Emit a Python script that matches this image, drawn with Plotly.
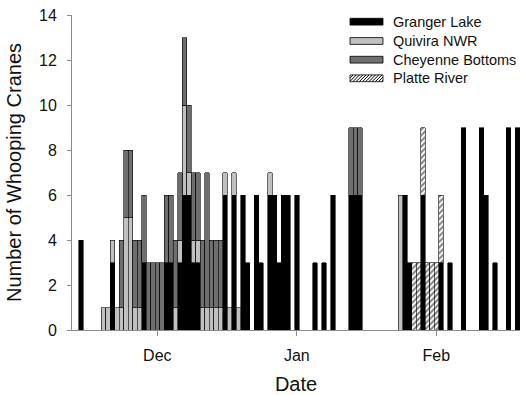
import datetime as dt
import plotly.graph_objects as go

# ---- data (days counted from Dec 1; one bar per day) ----
day_offsets = [-17, -12, -11, -10, -9, -8, -7, -6, -5, -4, -3, -2, -1, 0, 1, 2, 3, 4, 5, 6, 7, 8, 9,
               10, 11, 12, 13, 14, 15, 16, 17, 18, 19, 20, 22, 23, 25, 26, 27, 28, 29, 31, 35, 37,
               39, 43, 44, 45, 54, 55, 56, 57, 58, 59, 60, 61, 62, 63, 65, 68, 72, 73, 75, 78, 80]
granger_lake = [4, 0, 0, 3, 0, 0, 0, 0, 0, 0, 3, 0, 0, 0, 0, 3, 3, 0, 3, 6, 6, 3, 3,
                0, 0, 0, 0, 0, 6, 0, 6, 0, 6, 3, 6, 3, 6, 6, 3, 6, 6, 6, 3, 3,
                6, 6, 6, 6, 0, 6, 3, 0, 0, 6, 0, 0, 0, 3, 3, 9, 9, 6, 3, 9, 9]
quivira_nwr = [0, 1, 1, 1, 1, 1, 5, 5, 1, 1, 0, 0, 0, 0, 0, 0, 0, 1, 1, 4, 1, 1, 1,
               1, 1, 1, 1, 1, 1, 1, 1, 1, 0, 0, 0, 0, 1, 0, 0, 0, 0, 0, 0, 0,
               0, 0, 0, 0, 6, 0, 0, 0, 0, 0, 0, 0, 0, 0, 0, 0, 0, 0, 0, 0, 0]
cheyenne_bottoms = [0, 0, 0, 0, 0, 3, 3, 3, 3, 3, 3, 3, 3, 3, 3, 3, 3, 3, 3, 3, 3, 3, 3,
                    3, 6, 3, 3, 3, 0, 0, 0, 0, 0, 0, 0, 0, 0, 0, 0, 0, 0, 0, 0, 0,
                    0, 3, 3, 3, 0, 0, 0, 0, 0, 0, 0, 0, 0, 0, 0, 0, 0, 0, 0, 0, 0]
platte_river = [0, 0, 0, 0, 0, 0, 0, 0, 0, 0, 0, 0, 0, 0, 0, 0, 0, 0, 0, 0, 0, 0, 0,
                0, 0, 0, 0, 0, 0, 0, 0, 0, 0, 0, 0, 0, 0, 0, 0, 0, 0, 0, 0, 0,
                0, 0, 0, 0, 0, 0, 0, 3, 3, 3, 3, 3, 3, 3, 0, 0, 0, 0, 0, 0, 0]
month_ticks = ["2012-12-01", "2013-01-01", "2013-02-01"]
month_labels = ["Dec", "Jan", "Feb"]
series_names = ["Granger Lake", "Quivira NWR", "Cheyenne Bottoms", "Platte River"]

start = dt.date(2012, 12, 1)
dates = [(start + dt.timedelta(days=d)).isoformat() for d in day_offsets]

FONT = "Arial, Liberation Sans, sans-serif"
colors = ["#000000", "#c0c0c0", "#6e6e6e", "#ffffff"]
values = [granger_lake, quivira_nwr, cheyenne_bottoms, platte_river]

fig = go.Figure()
for name, vals, col in zip(series_names, values, colors):
    marker = dict(color=col, line=dict(color="#000000", width=0.6))
    if name == "Platte River":
        marker["pattern"] = dict(shape="/", fgcolor="#000000", bgcolor="#ffffff",
                                 size=4, solidity=0.5)
    fig.add_trace(go.Bar(
        x=dates, y=[v if v else None for v in vals], name=name,
        width=86400000, marker=marker, showlegend=False))

FIG_W, FIG_H = 522, 395
L, R, T, B = 72, 520, 15, 330
def px(x):
    return (x - L) / (R - L)
def py(y):
    return (B - y) / (B - T)

# ---- manual legend (wide swatches like the original) ----
rows = [21.7, 41.0, 59.7, 78.3]
sx0, sx1, hh = 350, 383, 3.4
shapes = []
annotations = []
for name, col, yc in zip(series_names, colors, rows):
    shapes.append(dict(type="rect", xref="paper", yref="paper",
                       x0=px(sx0), x1=px(sx1), y0=py(yc + hh), y1=py(yc - hh),
                       fillcolor=col, line=dict(color="#000000", width=0.8)))
    if name == "Platte River":
        h = 2 * hh
        segs = []
        xs = sx0 - h
        while xs < sx1:
            xa, ya = xs, yc + hh
            xb, yb = xs + h, yc - hh
            if xa < sx0:
                ya = ya - (sx0 - xa)
                xa = sx0
            if xb > sx1:
                yb = yb + (xb - sx1)
                xb = sx1
            if xb > xa:
                segs.append(f"M{px(xa):.5f},{py(ya):.5f} L{px(xb):.5f},{py(yb):.5f}")
            xs += 3.2
        shapes.append(dict(type="path", xref="paper", yref="paper", path=" ".join(segs),
                           line=dict(color="#000000", width=1)))
    annotations.append(dict(xref="paper", yref="paper", x=px(391), y=py(yc),
                            xanchor="left", yanchor="middle", showarrow=False,
                            text=name, font=dict(family=FONT, size=14.5, color="#111111")))

fig.update_layout(
    width=FIG_W, height=FIG_H,
    margin=dict(l=L, r=FIG_W - R, t=T, b=FIG_H - B),
    barmode="stack",
    plot_bgcolor="#ffffff", paper_bgcolor="#ffffff",
    font=dict(family=FONT, color="#111111"),
    showlegend=False,
    shapes=shapes, annotations=annotations,
    xaxis=dict(type="date", range=["2012-11-12 01:00", "2013-02-19 14:24"],
               automargin=False,
               tickvals=month_ticks, ticktext=month_labels,
               ticks="outside", ticklen=5, tickcolor="#8c8c8c",
               ticklabelstandoff=6,
               showline=True, linecolor="#8c8c8c", linewidth=1,
               showgrid=False, zeroline=False,
               tickfont=dict(family=FONT, size=16, color="#111111"),
               title=dict(text="Date", font=dict(family=FONT, size=20, color="#111111"),
                          standoff=16)),
    yaxis=dict(range=[0, 14], dtick=2, ticks="outside", ticklen=4, tickcolor="#8c8c8c",
               automargin=False, ticklabelstandoff=7, ticklabeloverflow="allow",
               showline=True, linecolor="#8c8c8c", linewidth=1,
               showgrid=False, zeroline=False,
               tickfont=dict(family=FONT, size=16, color="#111111"),
               title=dict(text="Number of Whooping Cranes",
                          font=dict(family=FONT, size=20, color="#111111"),
                          standoff=12)),
)

# remove the browser's default 8px body margin so the figure fills the window exactly
fig.write_html("out.html", config={"displayModeBar": False},
               post_script="document.body.style.margin='0px';")
